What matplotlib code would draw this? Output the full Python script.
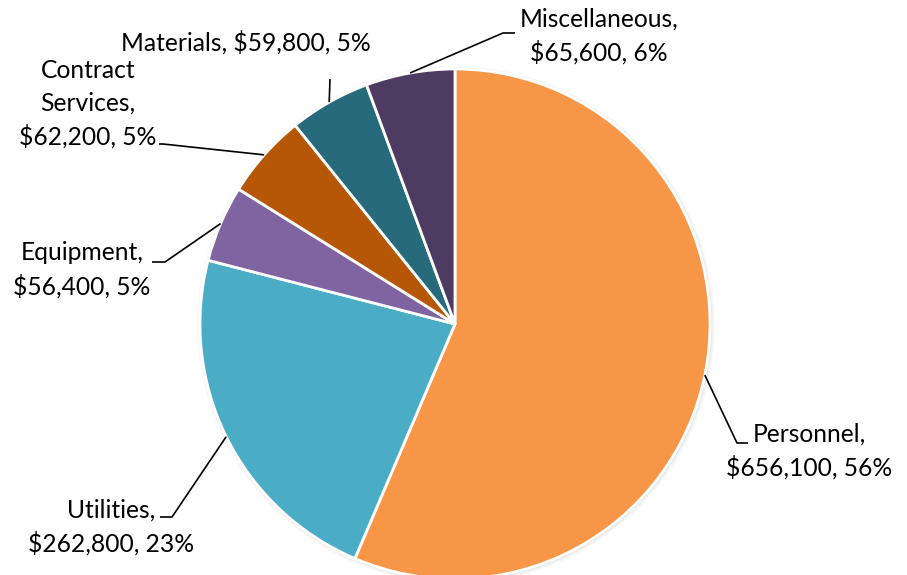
import matplotlib
matplotlib.use("Agg")
import matplotlib.pyplot as plt
from matplotlib.patches import Circle
import numpy as np

# Budget breakdown by category
categories = ["Personnel", "Utilities", "Equipment", "Contract Services", "Materials", "Miscellaneous"]
values = [656100, 262800, 56400, 62200, 59800, 65600]
colors = ["#F79646", "#4BACC6", "#8064A2", "#B65708", "#276A7C", "#4D3B62"]

# label line breaks: (name line break, break before amount)
name_text = ["Personnel", "Utilities", "Equipment", "Contract\nServices", "Materials", "Miscellaneous"]
amount_sep = ["\n", "\n", "\n", "\n", " ", "\n"]

W, H = 907, 575
fig = plt.figure(figsize=(W / 100, H / 100), dpi=100)
ax = fig.add_axes([0, 0, 1, 1])
ax.set_xlim(0, W)
ax.set_ylim(0, H)
ax.set_aspect("equal")
ax.axis("off")

cx, cy, r = 455, H - 324, 255

# soft shadow around the pie
for i, a in enumerate([0.06, 0.05, 0.04, 0.03]):
    ax.add_patch(Circle((cx + 1, cy - 1), r + 1 + i, color="#808080", alpha=a, zorder=0, lw=0))

wedges, _ = ax.pie(values, colors=colors, startangle=90, counterclock=False,
                   center=(cx, cy), radius=r, frame=True,
                   wedgeprops=dict(edgecolor="white", linewidth=2))
ax.set_xlim(0, W)
ax.set_ylim(0, H)
ax.axis("off")

total = sum(values)
# text block centers and leader elbows (pixel coords, y from top)
text_pos = [(809, 451), (111, 527), (82, 270), (88, 104), (246, 42), (599, 36)]
elbows = [[(737, 443), (748, 443)],
          [(172, 517), (160, 517)],
          [(165, 262), (152, 262)],
          [(163, 144), (159, 144)],
          [(330, 79)],
          [(503, 33), (515, 33)]]

font = dict(family=["Lato", "DejaVu Sans"], fontsize=17.7, color="#000000")

for w, name, sep, v, tp, el in zip(wedges, name_text, amount_sep, values, text_pos, elbows):
    pct = round(100 * v / total)
    label = f"{name},{sep}${v:,}, {pct}%"
    ang = np.deg2rad((w.theta1 + w.theta2) / 2)
    sx, sy = cx + r * np.cos(ang), cy + r * np.sin(ang)
    xs = [sx] + [p[0] for p in el]
    ys = [sy] + [H - p[1] for p in el]
    ax.plot(xs, ys, color="black", lw=1.2, solid_capstyle="butt", zorder=5)
    ax.text(tp[0], H - tp[1], label, ha="center", va="center", multialignment="center",
            linespacing=1.5, **font)

fig.savefig("out.png", dpi=100)
